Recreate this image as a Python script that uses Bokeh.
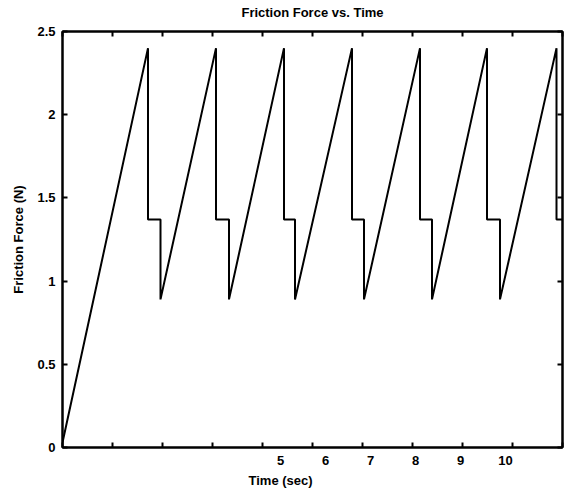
from bokeh.plotting import figure
from bokeh.models import LinearAxis, Range1d, FixedTicker, Title, CustomJSTickFormatter
from bokeh.embed import file_html
from bokeh.resources import INLINE

# Data (stick-slip friction sawtooth)
time_s = [0.00, 1.71, 1.71, 1.96, 1.96, 3.07, 3.07, 3.33, 3.33, 4.43, 4.43,
          4.65, 4.65, 5.79, 5.79, 6.03, 6.03, 7.15, 7.15, 7.39, 7.39, 8.49,
          8.49, 8.75, 8.75, 9.88, 9.88, 10.00]
force_n = [0.03, 2.40, 1.37, 1.37, 0.89, 2.40, 1.37, 1.37, 0.89, 2.40, 1.37,
           1.37, 0.89, 2.40, 1.37, 1.37, 0.89, 2.40, 1.37, 1.37, 0.89, 2.40,
           1.37, 1.37, 0.89, 2.40, 1.37, 1.37]

x_ticks = [0, 1, 2, 3, 4, 5, 6, 7, 8, 9, 10]
x_tick_labels_shown = [5, 6, 7, 8, 9, 10]
y_ticks = [0, 0.5, 1, 1.5, 2, 2.5]

FONT = "Liberation Sans"
TITLE = "Friction Force vs. Time"

p = figure(width=580, height=491, x_range=Range1d(0, 10), y_range=Range1d(0, 2.5),
           output_backend="svg", toolbar_location=None,
           min_border_left=62, min_border_right=18, min_border_top=31, min_border_bottom=44)
p.background_fill_color = "white"
p.border_fill_color = "white"
p.outline_line_color = "black"
p.outline_line_width = 2
p.grid.visible = False

blank = CustomJSTickFormatter(code="return ''")

# bottom axis: ticks only
xa = p.xaxis[0]
xa.ticker = FixedTicker(ticks=x_ticks)
xa.formatter = blank
xa.major_tick_in = 5
xa.major_tick_out = 0
xa.minor_tick_in = 0
xa.minor_tick_out = 0
xa.major_label_standoff = 0
xa.axis_line_width = 2
xa.major_tick_line_width = 2

# left axis
ya = p.yaxis[0]
ya.ticker = FixedTicker(ticks=y_ticks)
ya.major_tick_in = 5
ya.major_tick_out = 0
ya.minor_tick_in = 0
ya.minor_tick_out = 0
ya.major_label_standoff = 7
ya.axis_line_width = 2
ya.major_tick_line_width = 2
ya.major_label_text_font = FONT
ya.major_label_text_font_size = "13px"
ya.major_label_text_font_style = "bold"
ya.major_label_text_color = "black"
ya.axis_label = "Friction Force (N)"
ya.axis_label_text_font = FONT
ya.axis_label_text_font_size = "13px"
ya.axis_label_text_font_style = "bold"
ya.axis_label_text_color = "black"
ya.axis_label_standoff = 8

# top axis: inward ticks, carries the chart title
top = LinearAxis(ticker=FixedTicker(ticks=x_ticks), formatter=blank,
                 major_tick_in=5, major_tick_out=0, minor_tick_in=0, minor_tick_out=0,
                 major_label_standoff=0, axis_line_width=2, major_tick_line_width=2,
                 axis_label=TITLE, axis_label_standoff=12,
                 axis_label_text_font=FONT, axis_label_text_font_size="13px",
                 axis_label_text_font_style="bold", axis_label_text_color="black")
p.add_layout(top, "above")
right = LinearAxis(ticker=FixedTicker(ticks=y_ticks), formatter=blank,
                   major_tick_in=5, major_tick_out=0, minor_tick_in=0, minor_tick_out=0,
                   major_label_standoff=0, axis_line_width=2, major_tick_line_width=2)
p.add_layout(right, "right")

# tick-label axis (labels as they appear in the scanned reference)
p.extra_x_ranges = {"lbl": Range1d(0.1556, 0.1556 + 500 / 45)}
lbl = LinearAxis(x_range_name="lbl", ticker=FixedTicker(ticks=x_tick_labels_shown),
                 major_tick_in=0, major_tick_out=0, minor_tick_in=0, minor_tick_out=0,
                 axis_line_color=None, major_label_standoff=8)
lbl.major_label_text_font = FONT
lbl.major_label_text_font_size = "13px"
lbl.major_label_text_font_style = "bold"
lbl.major_label_text_color = "black"
p.add_layout(lbl, "below")

# x-axis title, offset as in the reference
p.add_layout(Title(text="Time (sec)", align="left", offset=186, standoff=6,
                   text_font=FONT, text_font_size="13px", text_font_style="bold",
                   text_color="black"), "below")

p.line(time_s, force_n, line_color="black", line_width=2)

open("out.html", "w").write(file_html(p, INLINE))
